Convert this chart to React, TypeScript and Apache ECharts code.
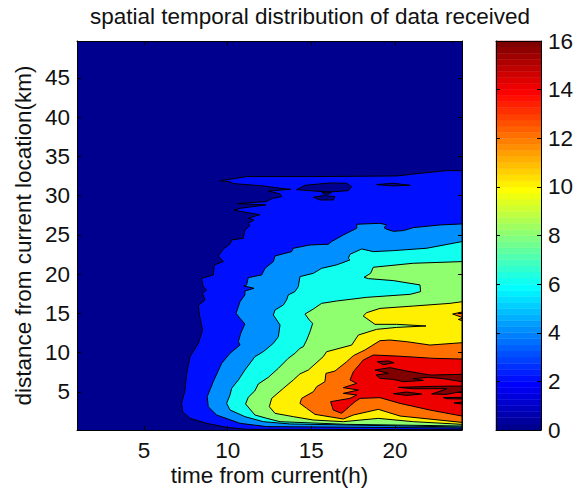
import React, { useEffect, useRef } from "react";
import * as echarts from "echarts";

type Pt = [number, number];

const xTicks = [5, 10, 15, 20];
const yTicks = [5, 10, 15, 20, 25, 30, 35, 40, 45];
const xRange: Pt = [1, 24];
const yRange: Pt = [0.15, 49.7];
const titleText = "spatial temporal distribution of data received";
const xName = "time from current(h)";
const yName = "distance from current location(km)";

// jet(64)
const jet = [
  "#00008f","#00009f","#0000af","#0000bf","#0000cf","#0000df","#0000ef","#0000ff",
  "#0010ff","#0020ff","#0030ff","#0040ff","#0050ff","#0060ff","#0070ff","#0080ff",
  "#008fff","#009fff","#00afff","#00bfff","#00cfff","#00dfff","#00efff","#00ffff",
  "#10ffef","#20ffdf","#30ffcf","#40ffbf","#50ffaf","#60ff9f","#70ff8f","#80ff80",
  "#8fff70","#9fff60","#afff50","#bfff40","#cfff30","#dfff20","#efff10","#ffff00",
  "#ffef00","#ffdf00","#ffcf00","#ffbf00","#ffaf00","#ff9f00","#ff8f00","#ff8000",
  "#ff7000","#ff6000","#ff5000","#ff4000","#ff3000","#ff2000","#ff1000","#ff0000",
  "#ef0000","#df0000","#cf0000","#bf0000","#af0000","#9f0000","#8f0000","#800000",
];
const levelColor = (level: number) => jet[Math.min(63, Math.floor((level / 16) * 64))];

const level2: Pt[] = [
  [24,33.19],[23.09,33.19],[21.49,32.85],[20.1,32.51],[15.12,32.43],[11.13,32.43],[10.14,32.09],[9.54,31.92],
  [10.14,31.75],[10.34,31.54],[12.13,31.24],[13.13,30.94],[13.78,30.81],[12.43,30.6],[13.13,30.22],[13.23,29.88],
  [12.69,29.66],[12.29,29.24],[10.58,28.99],[12.29,28.82],[10.74,28.39],[10.4,28.18],[10.84,27.97],[11.93,27.58],
  [11.23,27.12],[11.57,26.9],[11.23,26.48],[11.33,26.18],[11.03,25.63],[10.93,24.57],[10.24,24.36],[10.14,23.85],
  [9.74,23.17],[9.44,22.32],[9.74,21.6],[9.2,21.17],[9.14,19.9],[8.44,19.47],[8.54,18.41],[8.74,17.99],
  [8.5,17.56],[8.64,16.71],[8.35,16.2],[8.25,16.07],[8.31,14.8],[8.5,12.89],[8.25,11.19],[7.75,9.49],
  [7.55,7.37],[7.45,5.25],[7.25,3.55],[7.31,2.49],[7.75,1.64],[8.74,1],[9.94,0.49],[11.13,0.24],[24,0.19],
];
const hole2a: Pt[] = [[14.12,30.77],[14.62,31.32],[16.11,31.62],[17.11,31.58],[17.41,31.15],[17.21,30.64],[16.11,30.47],[15.12,30.6]];
const hole2b: Pt[] = [[15.62,30.43],[16.21,30.43],[16.01,30.18],[15.72,30.22]];
const hole2c: Pt[] = [[15.12,29.79],[15.72,30.01],[16.41,29.88],[16.31,29.45],[15.52,29.45]];
const hole2d: Pt[] = [[18.9,31.41],[19.9,31.58],[20.9,31.32],[19.9,31.24]];

const level4: Pt[] = [
  [24,26.4],[22.69,26.27],[21.09,25.93],[20.5,25.55],[19.9,25.46],[19.5,25.72],[19.34,25.93],[19.5,26.27],
  [19.1,26.48],[17.71,26.36],[17.71,25.85],[16.91,25],[16.21,24.15],[16.01,23.81],[14.92,23.72],[13.92,23.3],
  [13.82,22.87],[12.83,22.32],[12.73,21.6],[12.23,20.75],[12.03,19.9],[11.23,19.56],[11.13,18.63],[10.97,18.5],
  [11.57,18.2],[11.03,17.86],[11.03,17.35],[10.74,16.5],[10.5,15.01],[10.74,14.37],[11.03,13.65],[10.78,12.46],
  [10.64,11.4],[10.74,10.98],[10.14,9.92],[9.64,8.64],[9.14,6.31],[8.78,4.4],[8.84,3.12],[9.34,2.06],
  [10.74,1],[12.33,0.58],[24,0.4],
];
const level6: Pt[] = [
  [24,24.15],[21.89,23.3],[19.9,23],[18.7,22.87],[18.01,23.21],[17.31,22.53],[17.21,22.02],[17.31,21.81],
  [16.51,21.18],[15.62,20.75],[15.12,20.11],[14.32,19.69],[14.22,18.41],[14.02,17.78],[13.62,17.35],[13.52,16.71],
  [13.33,16.08],[12.83,15.44],[12.73,14.8],[13.13,13.53],[13.03,12.04],[12.73,11.19],[12.13,10.13],[11.63,9.49],
  [11.03,7.79],[10.64,6.52],[10.24,5.46],[10.14,4.61],[9.94,3.55],[10.14,2.7],[11.03,1.85],[12.13,1.21],
  [13.72,0.92],[24,0.53],
];
const level8: Pt[] = [
  [24,21.6],[21.09,21.39],[18.7,20.88],[18.54,20.11],[18.15,19.6],[18.41,19.43],[19.9,19.18],[21.49,18.63],
  [21.53,17.78],[20.9,17.43],[18.31,17.05],[16.51,16.58],[15.61,16.28],[15.12,15.56],[14.62,14.92],[14.88,14.16],
  [15.08,13.73],[14.92,12.67],[14.72,11.61],[14.52,10.76],[14.32,10.55],[14.02,9.92],[13.62,9.28],
  [13.03,8.01],[12.43,6.86],[11.83,6.01],[11.63,5.16],[11.23,4.31],[11.07,3.46],[11.63,2.06],[12.33,1.64],
  [13.13,1.21],[17.11,0.87],[24,0.66],
];
const level10: Pt[] = [
  [24,16.49],[23.28,16.28],[21.09,15.94],[19.1,15.64],[18.3,15.09],[18.1,14.67],[18.8,13.61],[20.1,13.61],
  [21.85,13.4],[20.1,13.22],[18.9,12.97],[17.81,12.25],[17.41,10.97],[15.91,10.12],[15.71,9.49],[14.82,7.79],
  [14.32,7.3],[13.92,6.52],[13.33,5.46],[12.63,4.18],[12.49,3.12],[12.83,2.27],[13.92,1.85],[15.12,1.42],
  [16.91,1.21],[19,1.63],[21.09,1.21],[24,0.87],
];
const level12: Pt[] = [
  [24,11.27],[22.09,10.97],[20.7,11.4],[19.7,11.61],[19.1,11.53],[18.2,10.34],[17.51,9.62],[17.11,8.85],
  [16.41,7.66],[15.87,7.36],[15.81,6.3],[15.32,5.67],[15.12,5.03],[14.42,4.18],[14.32,3.54],[14.72,2.91],
  [15.22,2.14],[16.91,1.55],[17.51,2.06],[19,2.78],[20.3,1.93],[24,1.12],
];
const island12a: Pt[] = [[24,15.18],[23.44,14.92],[24,14.5]];
const island12b: Pt[] = [[23.78,14.24],[24,14.37],[24,14.07]];
const level14: Pt[] = [
  [24,9.19],[22.29,9.28],[20.1,9.57],[18.7,9.7],[18.1,9.06],[17.51,7.58],[17.31,6.52],[17.71,6.09],
  [16.91,5.54],[17.81,5.24],[16.91,4.82],[17.71,4.61],[17.31,4.18],[16.15,3.76],[16.31,2.69],[16.81,2.27],
  [17.61,3.76],[17.91,4.18],[19.1,4.27],[20.3,3.54],[22.09,2.69],[24,1.93],
];
const peak16a: Pt[] = [[18.94,8.85],[19.6,8.94],[19.94,8.72],[19.3,8.47]];
const peak16b: Pt[] = [
  [18.8,7.79],[19.7,8.09],[20.7,7.66],[22.09,7.15],[24,7.24],[24,6.3],[22.89,6.69],[21.99,6.86],
  [21.09,6.69],[21.69,6.47],[20.5,6.3],[19.9,6.6],[19.1,6.73],[18.86,7.15],[19.6,7.37],
];
const peak16c: Pt[] = [
  [20.2,5.58],[22.29,5.71],[24,5.75],[24,5.07],[23.09,4.69],[22.19,4.73],[22.89,5.24],[23.09,5.41],[21.09,5.41],
];
const peak16d: Pt[] = [[19.9,4.77],[20.7,4.99],[21.59,4.73],[20.7,4.56]];
const peak16e: Pt[] = [[22.89,4.27],[24,4.31],[24,4.1],[23.09,4.14]];
const peak16f: Pt[] = [[23.52,3.59],[24,3.71],[24,3.46]];

const regions: { level: number; pts: Pt[] }[] = [
  { level: 2, pts: level2 },
  { level: 0, pts: hole2a },
  { level: 0, pts: hole2b },
  { level: 0, pts: hole2c },
  { level: 0, pts: hole2d },
  { level: 4, pts: level4 },
  { level: 6, pts: level6 },
  { level: 8, pts: level8 },
  { level: 10, pts: level10 },
  { level: 12, pts: level12 },
  { level: 12, pts: island12a },
  { level: 12, pts: island12b },
  { level: 14, pts: level14 },
  { level: 16, pts: peak16a },
  { level: 16, pts: peak16b },
  { level: 16, pts: peak16c },
  { level: 16, pts: peak16d },
  { level: 16, pts: peak16e },
  { level: 16, pts: peak16f },
];

const FONT = "Liberation Sans";
const labelStyle = { color: "#111", fontFamily: FONT, fontSize: 22.5 };
const frame = { show: true, onZero: false, lineStyle: { color: "#000", width: 1 } };
const tick = (values: number[]) => ({
  show: true,
  inside: true,
  length: 4,
  customValues: values,
  lineStyle: { color: "#000", width: 1 },
});

export default function App() {
  const ref = useRef<HTMLDivElement>(null);
  useEffect(() => {
    document.body.style.margin = "0";
    const chart = echarts.init(ref.current!, null, { renderer: "svg" });
    const plainX = { type: "value" as const, min: xRange[0], max: xRange[1], gridIndex: 0, z: 10, splitLine: { show: false } };
    const plainY = { type: "value" as const, min: yRange[0], max: yRange[1], gridIndex: 0, z: 10, splitLine: { show: false } };
    chart.setOption({
      animation: false,
      backgroundColor: "#fff",
      title: {
        text: titleText,
        left: 305,
        top: 0,
        textAlign: "center",
        textStyle: { ...labelStyle, fontWeight: "normal" },
      },
      grid: [
        { left: 77, top: 41, width: 385, height: 389, show: true, backgroundColor: jet[0], borderWidth: 0, outerBoundsMode: "none" },
        { left: 496, top: 41, width: 45, height: 389, show: false, outerBoundsMode: "none" },
      ],
      xAxis: [
        {
          ...plainX,
          position: "bottom",
          axisLine: frame,
          axisTick: tick(xTicks),
          axisLabel: { ...labelStyle, margin: 9, customValues: xTicks },
          name: xName,
          nameLocation: "middle",
          nameGap: 34,
          nameMoveOverlap: false,
          nameTextStyle: labelStyle,
        },
        { ...plainX, position: "top", axisLine: frame, axisTick: tick(xTicks), axisLabel: { show: false } },
        { type: "value", gridIndex: 1, min: 0, max: 1, position: "bottom", z: 10, axisLine: frame, axisTick: { show: false }, axisLabel: { show: false }, splitLine: { show: false } },
        { type: "value", gridIndex: 1, min: 0, max: 1, position: "top", z: 10, axisLine: frame, axisTick: { show: false }, axisLabel: { show: false }, splitLine: { show: false } },
      ],
      yAxis: [
        {
          ...plainY,
          position: "left",
          axisLine: frame,
          axisTick: tick(yTicks),
          axisLabel: { ...labelStyle, margin: 7, customValues: yTicks },
          name: yName,
          nameLocation: "middle",
          nameGap: 42,
          nameMoveOverlap: false,
          nameTextStyle: labelStyle,
        },
        { ...plainY, position: "right", axisLine: frame, axisTick: tick(yTicks), axisLabel: { show: false } },
        {
          type: "value", gridIndex: 1, min: 0, max: 16, interval: 2, position: "right", z: 10,
          axisLine: frame,
          axisTick: { show: true, inside: true, length: 4, lineStyle: { color: "#000" } },
          axisLabel: { ...labelStyle, margin: 7 },
          splitLine: { show: false },
        },
        {
          type: "value", gridIndex: 1, min: 0, max: 16, interval: 2, position: "left", z: 10,
          axisLine: frame,
          axisTick: { show: true, inside: true, length: 4, lineStyle: { color: "#000" } },
          axisLabel: { show: false },
          splitLine: { show: false },
        },
      ],
      series: [
        {
          type: "custom",
          xAxisIndex: 0,
          yAxisIndex: 0,
          data: regions.map((r) => r.pts[0]),
          silent: true,
          renderItem: (params: any, api: any) => {
            const r = regions[params.dataIndex];
            return {
              type: "polygon",
              shape: { points: r.pts.map((p) => api.coord(p)) },
              style: { fill: levelColor(r.level), stroke: "#000", lineWidth: 1 },
            };
          },
        },
        {
          type: "custom",
          xAxisIndex: 2,
          yAxisIndex: 2,
          data: jet.map((_, i) => [0, i / 4]),
          silent: true,
          renderItem: (params: any, api: any) => {
            const i = params.dataIndex;
            const a = api.coord([0, i / 4]);
            const b = api.coord([1, (i + 1) / 4]);
            return {
              type: "rect",
              shape: { x: a[0], y: b[1], width: b[0] - a[0], height: a[1] - b[1] },
              style: { fill: jet[i], stroke: jet[i], lineWidth: 0.5 },
            };
          },
        },
      ],
    });
    return () => chart.dispose();
  }, []);
  return <div ref={ref} style={{ width: 585, height: 489 }} />;
}
